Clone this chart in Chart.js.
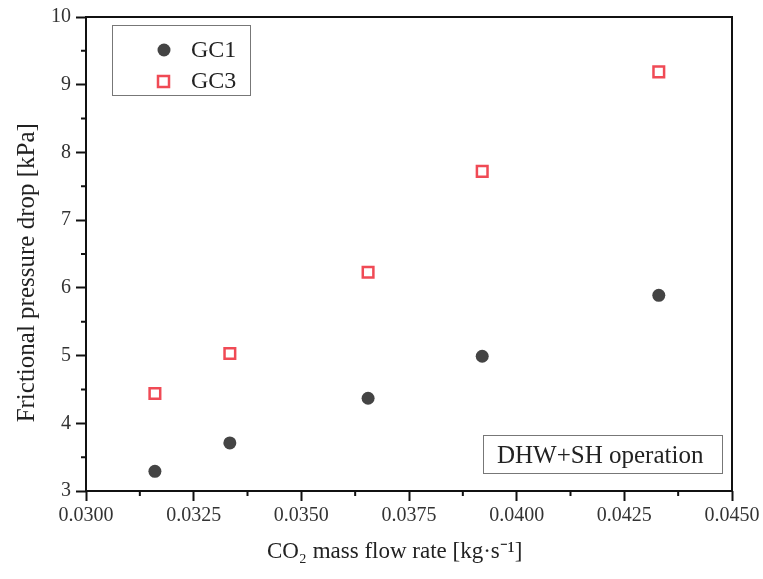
<!DOCTYPE html>
<html>
<head>
<meta charset="utf-8">
<script src="https://cdn.jsdelivr.net/npm/chart.js@4/dist/chart.umd.min.js"></script>
<style>
  html, body { margin: 0; padding: 0; background: #fff; }
  #wrap { width: 763px; height: 579px; }
</style>
</head>
<body>
<div id="wrap"><canvas id="chart" width="763" height="579"></canvas></div>
<script>
// mass flow rate [kg/s]
const flowGC1 = [0.0316, 0.03334, 0.03655, 0.0392, 0.0433];
const dropGC1 = [3.29, 3.71, 4.37, 4.99, 5.89];
const flowGC3 = [0.0316, 0.03334, 0.03655, 0.0392, 0.0433];
const dropGC3 = [4.44, 5.03, 6.23, 7.72, 9.19];
const xTicks = [0.03, 0.0325, 0.035, 0.0375, 0.04, 0.0425, 0.045];
const yTicks = [3, 4, 5, 6, 7, 8, 9, 10];

const serif = "'Liberation Serif', 'Times New Roman', serif";

function toPoints(xs, ys) {
  return xs.map((x, i) => ({ x: x, y: ys[i] }));
}

// frame, minor ticks, legend and note box
const extras = {
  id: 'extras',
  afterDraw(chart) {
    const ctx = chart.ctx;
    const a = chart.chartArea;
    const xs = chart.scales.x, ys = chart.scales.y;
    ctx.save();
    ctx.strokeStyle = '#111';
    ctx.lineWidth = 2;
    ctx.strokeRect(a.left, a.top, a.right - a.left, a.bottom - a.top);

    // minor ticks
    ctx.beginPath();
    for (let i = 0; i < xTicks.length - 1; i++) {
      const px = xs.getPixelForValue((xTicks[i] + xTicks[i + 1]) / 2);
      ctx.moveTo(px, a.bottom);
      ctx.lineTo(px, a.bottom + 5);
    }
    for (let i = 0; i < yTicks.length - 1; i++) {
      const py = ys.getPixelForValue((yTicks[i] + yTicks[i + 1]) / 2);
      ctx.moveTo(a.left, py);
      ctx.lineTo(a.left - 5, py);
    }
    ctx.stroke();

    // legend
    ctx.lineWidth = 1;
    ctx.strokeStyle = '#777';
    ctx.strokeRect(112.5, 25.5, 138, 70);
    ctx.fillStyle = '#444';
    ctx.beginPath();
    ctx.arc(164, 50, 6.5, 0, Math.PI * 2);
    ctx.fill();
    ctx.strokeStyle = '#f04a55';
    ctx.lineWidth = 2.5;
    ctx.fillStyle = '#fff';
    ctx.fillRect(158, 76, 11, 11);
    ctx.strokeRect(158, 76, 11, 11);
    ctx.fillStyle = '#222';
    ctx.font = '24px ' + serif;
    ctx.textBaseline = 'middle';
    ctx.textAlign = 'left';
    ctx.fillText('GC1', 191, 51);
    ctx.fillText('GC3', 191, 82);

    // note box
    ctx.strokeStyle = '#777';
    ctx.lineWidth = 1;
    ctx.strokeRect(483.5, 435.5, 239, 38);
    ctx.font = '25px ' + serif;
    ctx.fillText('DHW+SH operation', 497, 456);
    ctx.restore();
  }
};

new Chart(document.getElementById('chart'), {
  type: 'scatter',
  data: {
    datasets: [
      {
        label: 'GC1',
        data: toPoints(flowGC1, dropGC1),
        pointStyle: 'circle',
        pointRadius: 6.5,
        backgroundColor: '#444',
        borderColor: '#444',
        borderWidth: 0
      },
      {
        label: 'GC3',
        data: toPoints(flowGC3, dropGC3),
        pointStyle: 'rect',
        pointRadius: 7.5,
        backgroundColor: '#fff',
        borderColor: '#f04a55',
        borderWidth: 2.5
      }
    ]
  },
  plugins: [extras],
  options: {
    responsive: false,
    animation: false,
    layout: { padding: { top: 16, right: 31, left: 0, bottom: 0 } },
    plugins: {
      legend: { display: false },
      tooltip: { enabled: false }
    },
    scales: {
      x: {
        type: 'linear',
        min: 0.03,
        max: 0.045,
        afterBuildTicks: (scale) => { scale.ticks = xTicks.map(v => ({ value: v })); },
        afterFit: (scale) => { scale.height = 88; },
        grid: { drawOnChartArea: false, tickLength: 10, tickWidth: 2, tickColor: '#111' },
        border: { display: false },
        ticks: {
          color: '#333',
          padding: 3,
          maxRotation: 0,
          font: { family: serif, size: 20 },
          callback: (v) => v.toFixed(4)
        },
        title: {
          display: true,
          // trailing spaces nudge the centred title left, as in the original
          text: 'CO\u2082 mass flow rate [kg\u00b7s\u207b\u00b9]     ',
          color: '#222',
          font: { family: serif, size: 23 },
          padding: { top: 4, bottom: 13 }
        }
      },
      y: {
        type: 'linear',
        min: 3,
        max: 10,
        afterBuildTicks: (scale) => { scale.ticks = yTicks.map(v => ({ value: v })); },
        afterFit: (scale) => { scale.width = 86; },
        grid: { drawOnChartArea: false, tickLength: 10, tickWidth: 2, tickColor: '#111' },
        border: { display: false },
        ticks: {
          color: '#333',
          padding: 5,
          font: { family: serif, size: 20 }
        },
        title: {
          display: true,
          text: 'Frictional pressure drop [kPa]      ',
          color: '#222',
          font: { family: serif, size: 25 },
          padding: { top: 12, bottom: 4 }
        }
      }
    }
  }
});
</script>
</body>
</html>
